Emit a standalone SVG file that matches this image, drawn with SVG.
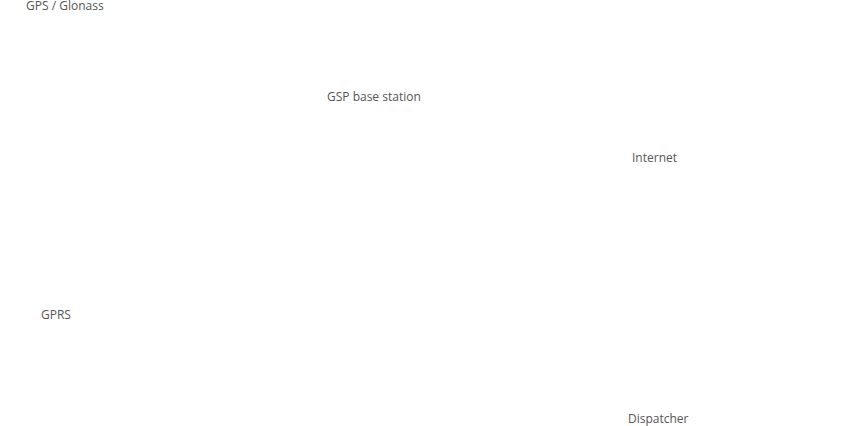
<svg xmlns="http://www.w3.org/2000/svg" width="854" height="426" viewBox="0 0 854 426">
<style>
text{font-family:"Open Sans","Noto Sans",sans-serif;font-size:12px;fill:#555}
</style>
<rect width="854" height="426" fill="#fff"/>
<g id="connectors"></g>
<g id="gps"><text x="26" y="9.5">GPS / Glonass</text></g>
<g id="base"><text x="327" y="101">GSP base station</text></g>
<g id="internet"><text x="632" y="162">Internet</text></g>
<g id="gprs"><text x="41" y="319">GPRS</text></g>
<g id="dispatcher"><text x="628" y="423">Dispatcher</text></g>
</svg>
